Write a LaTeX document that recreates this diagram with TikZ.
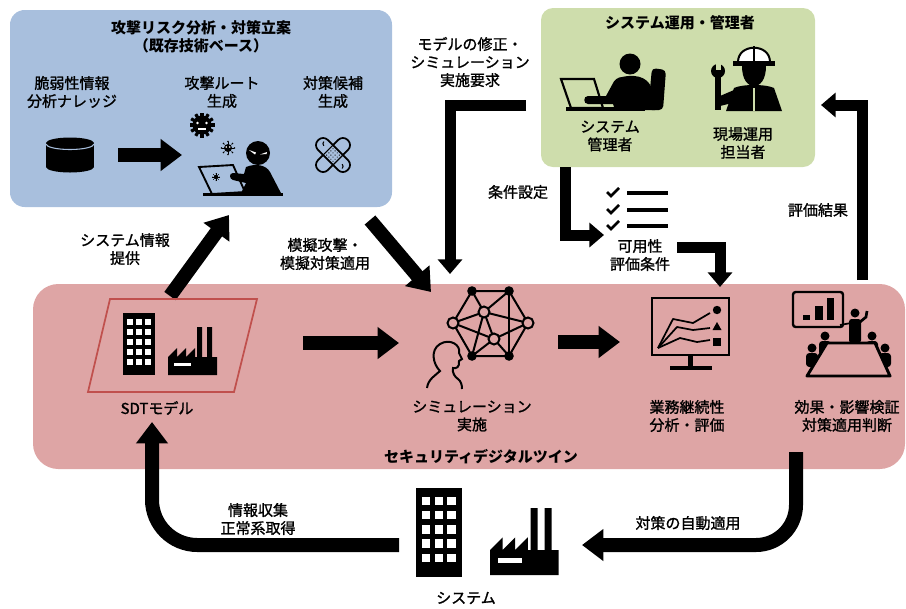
\documentclass[tikz,border=0pt]{standalone}
\usepackage{fontspec}
\setmainfont{Noto Sans CJK JP}
\newfontfamily\lblfont{Noto Sans CJK JP}[FakeBold=1.3]
\usetikzlibrary{arrows.meta}
\definecolor{boxblue}{RGB}{168,191,221}
\definecolor{boxgreen}{RGB}{206,221,172}
\definecolor{boxpink}{RGB}{222,165,165}
\definecolor{sdtred}{RGB}{192,80,77}
\tikzset{
  lbl/.style={font=\lblfont\fontsize{11.25}{13.5}\selectfont, align=center, inner sep=0pt},
  ttl/.style={lbl, font=\fontsize{11.25}{13.5}\selectfont\bfseries},
  fatarrow/.style={line width=10.5pt, -{Triangle[length=16pt,width=23pt]}},
  bentarrow/.style={line width=8.25pt, line join=miter, -{Triangle[length=11pt,width=18pt]}},
  building/.pic={
    \fill (0,0) rectangle (32,62);
    \foreach \c in {0,1,2} \foreach \r in {0,...,4}
      \fill[white] ({4+9*\c},{6+10*\r}) rectangle ++(6,6);
  },
  factory/.pic={
    \fill (0,48) -- (0,30) -- (9,21) -- (9,30) -- (18,21) -- (18,30) -- (27,21) -- (27,30)
      -- (29,30) -- (29,0) -- (34,0) -- (34,30) -- (39,30) -- (39,0) -- (44,0) -- (44,30)
      -- (49,30) -- (49,48) -- cycle;
    \fill[white] (6,36) rectangle (23,39);
  },
  virus/.pic={
    \fill (0,0) circle (1);
    \foreach \a in {0,45,...,315} {
      \draw[line width=0.08] (0,0) -- (\a:1.6);
      \fill (\a:1.6) circle (0.22);
    }
  }
}
\begin{document}
\begin{tikzpicture}[x=0.75pt,y=-0.75pt]
\useasboundingbox (0,0) rectangle (906,608);

% ---------- panels ----------
\fill[boxblue, rounded corners=11pt] (10,10) rectangle (392,207);
\fill[boxgreen, rounded corners=9pt] (541,8) rectangle (815,167);
\fill[boxpink, rounded corners=19pt] (33,284) rectangle (905,469);

% ---------- attack analysis panel ----------
\node[ttl] (riskTitle) at (201,37) {攻撃リスク分析・対策立案\\（既存技術ベース）};
\node[lbl] (vulnLbl) at (72,92) {脆弱性情報\\分析ナレッジ};
\node[lbl] (routeLbl) at (222,92) {攻撃ルート\\生成};
\node[lbl] (candLbl) at (333,92) {対策候補\\生成};

% knowledge database
\fill (46,143) rectangle (94,167);
\fill (70,167) ellipse (24 and 5.5);
\fill (70,143) ellipse (24 and 5.5);
\draw[boxblue, line width=0.8pt] (46,144) arc[start angle=180, end angle=0, x radius=24, y radius=5.5];
\coordinate (dbEast) at (118,155);
\coordinate (hackWest) at (182,155);
\draw[fatarrow] (dbEast) -- (hackWest);

% attacker at a laptop
\fill (202,125) circle (9.5);
\foreach \a in {0,30,...,330} \draw[line width=2.4pt] (202,125) -- ++(\a:12.5);
\fill[white] (197.5,123) circle (1.4);
\fill[white] (206.5,123) circle (1.4);
\draw[white, line width=0.9pt] (198,129) -- (206,129);
\pic[scale=4] at (228,148) {virus};
\fill[white] (226.3,147) circle (0.9);
\fill[white] (229.7,147) circle (0.9);
\fill (258,153) circle (12);
\fill[white] (249,150) -- (256,152.5) -- (255,154.5) -- cycle;
\fill[white] (260,154.5) -- (267,152) -- (266.5,154) -- cycle;
\fill (246,167) .. controls (256,163) and (266,165) .. (270,172) -- (282,195)
  -- (240,195) -- (246,183) -- (233,180) .. controls (229,179) and (229,173) .. (233,173)
  -- (244,174) -- cycle;
\draw[line width=1.4pt] (199,167) -- (233,165) -- (245,192) -- (212,194) -- cycle;
\pic[scale=2.2] at (216,177) {virus};
\draw[line width=2.4pt] (203,194.5) -- (283,194.5);

% countermeasure bandage
\begin{scope}[shift={(333,155)}, rotate=45]
  \filldraw[fill=boxblue, line width=1.3pt, rounded corners=5pt] (-21,-7) rectangle (21,7);
\end{scope}
\begin{scope}[shift={(333,155)}, rotate=-45]
  \filldraw[fill=boxblue, line width=1.3pt, rounded corners=5pt] (-21,-7) rectangle (21,7);
  \draw[line width=0.9pt] (-7,-7) -- (-7,7) (7,-7) -- (7,7);
  \foreach \i in {-4.5,-1.5,1.5,4.5} \foreach \j in {-4.5,-1.5,1.5,4.5}
    \fill (\i,\j) circle (0.7);
  \draw[line width=0.8pt] (-16,-3) arc[start angle=180, end angle=90, radius=3];
  \draw[line width=0.8pt] (16,3) arc[start angle=0, end angle=-90, radius=3];
\end{scope}

% ---------- operations panel ----------
\node[ttl] (opsTitle) at (680,23) {システム運用・管理者};
\node[lbl] (adminLbl) at (610,136) {システム\\管理者};
\node[lbl] (fieldLbl) at (743,143) {現場運用\\担当者};

% administrator at a desk
\fill (630,64) circle (10.5);
\fill[rounded corners=3pt] (652,68) -- (666,70) -- (663,110) -- (648,110) -- cycle;
\fill (622,77) .. controls (640,73) and (650,80) .. (652,90) -- (655,110) -- (615,110)
  -- (613,104) -- (588,104) .. controls (583,104) and (583,96) .. (588,96) -- (606,96)
  -- (612,85) .. controls (614,80) and (618,77) .. (622,77) -- cycle;
\draw[line width=1.6pt] (561,79) -- (594,79) -- (603,108) -- (571,108) -- cycle;
\draw[line width=2.6pt] (566,109) -- (645,109);

% field operator
\filldraw[fill=white, line width=1.5pt] (738,62) .. controls (738,43) and (770,43) .. (770,62) -- cycle;
\draw[line width=1.5pt] (754,46) -- (754,62);
\fill (733,61) rectangle (775,66);
\fill (742,66) -- (766,66) .. controls (766,80) and (760,86) .. (754,86) .. controls (748,86) and (742,80) .. (742,66) -- cycle;
\fill (734,88) .. controls (742,84) and (766,84) .. (774,88) -- (782,111) -- (726,111) -- cycle;
\draw[boxgreen, line width=1.2pt] (754,88) -- (754,111);
\fill (715,76) rectangle (721,110);
\fill (718,71) circle (7);
\fill[boxgreen] (715.5,61) rectangle (720.5,70);
\fill (720,96) -- (734,90) -- (736,102) -- (720,106) -- cycle;

% ---------- feedback labels and arrows ----------
\node[lbl] (fixLbl) at (470,62) {モデルの修正・\\シミュレーション\\実施要求};
\node[lbl] (condLbl) at (518,192) {条件設定};
\node[lbl] (availLbl) at (640,255) {可用性\\評価条件};
\node[lbl] (resultLbl) at (818,210) {評価結果};
\node[lbl] (sysInfoLbl) at (125,249) {システム情報\\提供};
\node[lbl] (emuLbl) at (325,254) {模擬攻撃・\\模擬対策適用};

% evaluation-condition checklist
\foreach \y in {192,209,225} {
  \draw[line width=2pt] (607,\y) -- (611,\y+4) -- (619,\y-4);
  \draw[line width=2.4pt] (627,\y+1) -- (668,\y+1);
}

\coordinate (fixStart) at (526,105);
\coordinate (simTop) at (450,274);
\draw[bentarrow] (fixStart) -| (simTop);
\coordinate (opsBottom) at (565,167);
\coordinate (checkWest) at (604,235);
\draw[bentarrow] (opsBottom) |- (checkWest);
\coordinate (availEast) at (677,247);
\coordinate (bcpTop) at (720,287);
\draw[bentarrow] (availEast) -| (bcpTop);
\coordinate (judgeTop) at (862,280);
\coordinate (opsEast) at (821,105);
\draw[bentarrow] (judgeTop) |- (opsEast);
\coordinate (sdtTop) at (170,296);
\coordinate (riskBottom) at (229,215);
\draw[fatarrow] (sdtTop) -- (riskBottom);
\coordinate (riskOut) at (370,220);
\coordinate (simIn) at (431,292);
\draw[fatarrow] (riskOut) -- (simIn);

% ---------- security digital twin ----------
\draw[sdtred, line width=1.3pt] (110,299) -- (257,299) -- (234,392) -- (88,392) -- cycle;
\pic at (123,313) {building};
\pic at (168,327) {factory};
\node[lbl] (sdtLbl) at (157,408) {SDTモデル};

\coordinate (sdtEast) at (303,343);
\coordinate (simWest) at (399,343);
\draw[fatarrow] (sdtEast) -- (simWest);

% simulation: network and analyst
\begin{scope}[line width=1.5pt]
  \coordinate (nA) at (472,291); \coordinate (nB) at (509,291);
  \coordinate (nC) at (484,312); \coordinate (nD) at (453,323);
  \coordinate (nE) at (528,323); \coordinate (nF) at (494,339);
  \coordinate (nG) at (472,356); \coordinate (nH) at (509,356);
  \draw (nA) -- (nB) -- (nE) -- (nH) -- (nG) -- (nD) -- cycle;
  \draw (nB) -- (nH);
  \draw (nA) -- (nC) -- (nB);
  \draw (nD) -- (nC) -- (nE);
  \draw (nC) -- (nF) (nC) -- (nG);
  \draw (nD) -- (nF) -- (nE);
  \draw (nG) -- (nF) -- (nH);
  \foreach \n in {nA,nB,nG,nH} \fill (\n) circle (4.8);
  \foreach \n in {nC,nD,nE,nF} \filldraw[fill=boxpink] (\n) circle (5.5);
  \draw (427,388) .. controls (428,379) and (436,375) .. (440,371)
    .. controls (433,364) and (430,350) .. (440,344)
    .. controls (450,338) and (461,345) .. (459,353)
    -- (462,359) -- (459,361)
    .. controls (460,367) and (456,369) .. (453,368)
    .. controls (452,373) and (455,377) .. (458,379)
    .. controls (461,381) and (462,385) .. (462,389);
\end{scope}
\node[lbl] (simLbl) at (472,416) {シミュレーション\\実施};

\coordinate (simEast) at (558,342);
\coordinate (bcpWest) at (620,342);
\draw[fatarrow] (simEast) -- (bcpWest);

% business continuity analysis monitor
\draw[line width=1.8pt] (652,298) rectangle (729,355);
\fill (688,355) rectangle (693,368);
\draw[line width=2.6pt] (670,368) -- (712,368);
\begin{scope}[line width=1.3pt, line join=round]
  \draw (658,348) -- (673,319) -- (693,323) -- (710,313);
  \draw (658,348) -- (677,327) -- (693,330) -- (710,328);
  \draw (658,348) -- (680,338) -- (697,342) -- (710,340);
\end{scope}
\fill (717,310) circle (4.2);
\fill (712.5,330) -- (721.5,330) -- (717,322) -- cycle;
\fill (713,338) rectangle (721,346);
\node[lbl] (bcpLbl) at (687,416) {業務継続性\\分析・評価};

% effect verification meeting
\draw[line width=1.8pt, rounded corners=2pt] (793,292) rectangle (843,327);
\fill (803,315) rectangle (810,320);
\fill (815,306) rectangle (823,320);
\fill (827,298) rectangle (834,320);
\draw[line width=1.3pt] (840,325) -- (851,323);
\fill (855,313) circle (4.5);
\fill[rounded corners=2pt] (849,319) rectangle (861,343);
\draw[line width=2pt] (860,322) -- (866,317) -- (867,311);
\foreach \px/\py in {825/336,812/348,872/336,885/348} {
  \fill (\px,\py) circle (4.5);
  \fill[rounded corners=2.5pt] (\px-6,\py+5) rectangle (\px+6,\py+19);
}
\filldraw[fill=boxpink, line width=2.2pt, line join=round] (827,343) -- (875,343) -- (890,376) -- (807,376) -- cycle;
\node[lbl] (judgeLbl) at (847,416) {効果・影響検証\\対策適用判断};

\node[ttl] (sdtTitle) at (481,457) {セキュリティデジタルツイン};

% ---------- physical system ----------
\pic[scale=1.43] at (416,488) {building};
\pic[scale=1.4] at (490,508) {factory};
\node[lbl] (sysLbl) at (466,598) {システム};

\node[lbl] (collectLbl) at (258,519) {情報収集\\正常系取得};
\node[lbl] (applyLbl) at (688,523) {対策の自動適用};

\coordinate (judgeBottom) at (796,452);
\coordinate (sysEast) at (582,545);
\draw[fatarrow, rounded corners=30pt] (judgeBottom) |- (sysEast);
\coordinate (sysWest) at (399,545);
\coordinate (sdtBottom) at (152,422);
\draw[fatarrow, rounded corners=34pt] (sysWest) -| (sdtBottom);
\end{tikzpicture}
\end{document}
